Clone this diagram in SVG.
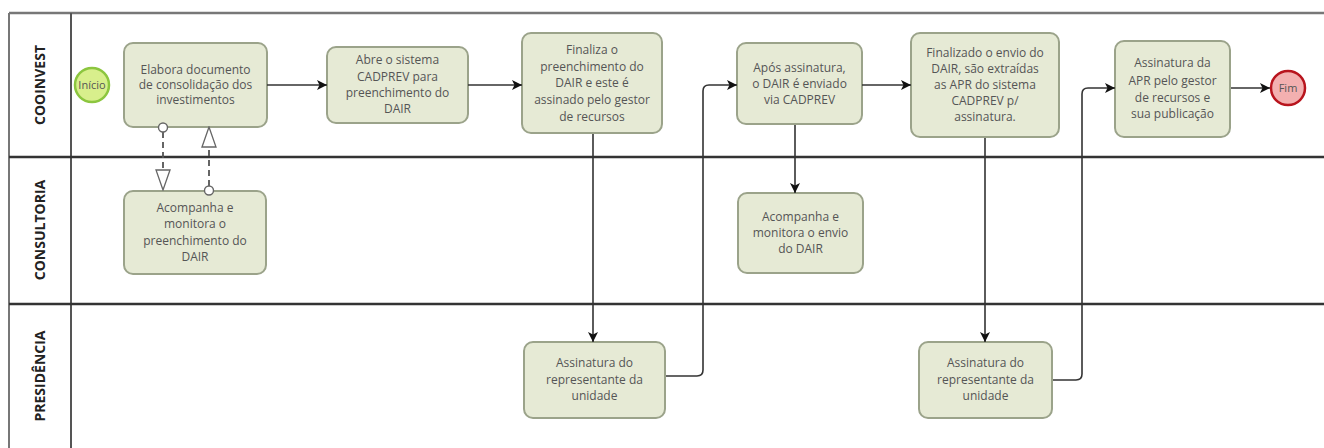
<svg xmlns="http://www.w3.org/2000/svg" width="1324" height="448" viewBox="0 0 1324 448">
<style>
.box{fill:#e6ead5;stroke:#9ba38a;stroke-width:2}
.t{font-family:"Open Sans","Liberation Sans",sans-serif;font-size:12px;fill:#555;text-anchor:middle}
.lane{font-family:"Open Sans","Liberation Sans",sans-serif;font-size:14px;font-weight:bold;fill:#222;text-anchor:middle}
.c{fill:none;stroke:#333;stroke-width:1.6}
.d{fill:none;stroke:#555;stroke-width:1.8;stroke-dasharray:6,4}
</style>
<defs>
<marker id="ah" viewBox="0 0 10 10" refX="10" refY="5" markerWidth="10" markerHeight="10" markerUnits="userSpaceOnUse" orient="auto">
<path d="M0,0 L10,5 L0,10 L2.5,5 Z" fill="#111"/>
</marker>
<marker id="oa" viewBox="0 0 22 16" refX="21" refY="8" markerWidth="22" markerHeight="16" markerUnits="userSpaceOnUse" orient="auto">
<path d="M1,1 L21,8 L1,15 Z" fill="#fff" stroke="#666" stroke-width="1.3"/>
</marker>
</defs>
<rect width="1324" height="448" fill="#fff"/>
<g id="pool">
<line x1="9" y1="13" x2="1324" y2="13" stroke="#777" stroke-width="2.5"/>
<line x1="9" y1="13" x2="9" y2="448" stroke="#777" stroke-width="2"/>
<line x1="71" y1="13" x2="71" y2="448" stroke="#555" stroke-width="2"/>
<line x1="9" y1="157" x2="1324" y2="157" stroke="#333" stroke-width="2.5"/>
<line x1="9" y1="304" x2="1324" y2="304" stroke="#333" stroke-width="2.5"/>
<text class="lane" transform="translate(45,85) rotate(-90)">COOINVEST</text>
<text class="lane" transform="translate(45,230) rotate(-90)">CONSULTORIA</text>
<text class="lane" transform="translate(45,376) rotate(-90)">PRESIDÊNCIA</text>
</g>
<g id="inicio">
<circle cx="92" cy="85" r="17" fill="#d8ef8c" stroke="#8cc63f" stroke-width="2.5"/>
<text class="t" x="92" y="89" style="font-size:11px">Início</text>
</g>
<g id="elabora">
<rect class="box" x="124" y="43" width="143" height="84" rx="9"/>
<text class="t" x="195.5" y="74">Elabora documento</text>
<text class="t" x="195.5" y="89">de consolidação dos</text>
<text class="t" x="195.5" y="104">investimentos</text>
</g>
<g id="abre">
<rect class="box" x="327" y="47" width="141" height="76" rx="9"/>
<text class="t" x="397.5" y="64">Abre o sistema</text>
<text class="t" x="397.5" y="81">CADPREV para</text>
<text class="t" x="397.5" y="97">preenchimento do</text>
<text class="t" x="397.5" y="113">DAIR</text>
</g>
<g id="finaliza">
<rect class="box" x="522" y="33" width="140" height="100" rx="9"/>
<text class="t" x="592" y="54">Finaliza o</text>
<text class="t" x="592" y="71">preenchimento do</text>
<text class="t" x="592" y="87">DAIR e este é</text>
<text class="t" x="592" y="104">assinado pelo gestor</text>
<text class="t" x="592" y="121">de recursos</text>
</g>
<g id="apos">
<rect class="box" x="737" y="43" width="125" height="81" rx="9"/>
<text class="t" x="799.5" y="72">Após assinatura,</text>
<text class="t" x="799.5" y="88">o DAIR é enviado</text>
<text class="t" x="799.5" y="104">via CADPREV</text>
</g>
<g id="finalizado">
<rect class="box" x="911" y="33" width="148" height="104" rx="9"/>
<text class="t" x="985" y="57">Finalizado o envio do</text>
<text class="t" x="985" y="73">DAIR, são extraídas</text>
<text class="t" x="985" y="89">as APR do sistema</text>
<text class="t" x="985" y="105">CADPREV p/</text>
<text class="t" x="985" y="121">assinatura.</text>
</g>
<g id="apr">
<rect class="box" x="1115" y="41" width="115" height="96" rx="9"/>
<text class="t" x="1172.5" y="67">Assinatura da</text>
<text class="t" x="1172.5" y="85">APR pelo gestor</text>
<text class="t" x="1172.5" y="102">de recursos e</text>
<text class="t" x="1172.5" y="118">sua publicação</text>
</g>
<g id="fim">
<circle cx="1288" cy="88" r="17" fill="#f3b0b0" stroke="#b8141d" stroke-width="2.5"/>
<text class="t" x="1288" y="92" style="font-size:11px">Fim</text>
</g>
<g id="acompanha1">
<rect class="box" x="124" y="191" width="142" height="83" rx="9"/>
<text class="t" x="195" y="212">Acompanha e</text>
<text class="t" x="195" y="228">monitora o</text>
<text class="t" x="195" y="245">preenchimento do</text>
<text class="t" x="195" y="261">DAIR</text>
</g>
<g id="acompanha2">
<rect class="box" x="738" y="193" width="125" height="80" rx="9"/>
<text class="t" x="800.5" y="221">Acompanha e</text>
<text class="t" x="800.5" y="237">monitora o envio</text>
<text class="t" x="800.5" y="253">do DAIR</text>
</g>
<g id="assinatura1">
<rect class="box" x="524" y="342" width="141" height="76" rx="9"/>
<text class="t" x="594.5" y="367">Assinatura do</text>
<text class="t" x="594.5" y="384">representante da</text>
<text class="t" x="594.5" y="400">unidade</text>
</g>
<g id="assinatura2">
<rect class="box" x="919" y="342" width="133" height="76" rx="9"/>
<text class="t" x="985.5" y="367">Assinatura do</text>
<text class="t" x="985.5" y="384">representante da</text>
<text class="t" x="985.5" y="400">unidade</text>
</g>
<g id="connectors">
<path class="c" d="M267,85 H327" marker-end="url(#ah)"/>
<path class="c" d="M468,85 H522" marker-end="url(#ah)"/>
<path class="c" d="M593,134 V342" marker-end="url(#ah)"/>
<path class="c" d="M666,376 H697 Q703,376 703,370 V91 Q703,85 709,85 H737" marker-end="url(#ah)"/>
<path class="c" d="M862,85 H911" marker-end="url(#ah)"/>
<path class="c" d="M795,125 V193" marker-end="url(#ah)"/>
<path class="c" d="M985,138 V342" marker-end="url(#ah)"/>
<path class="c" d="M1053,380 H1076 Q1082,380 1082,374 V94 Q1082,88 1088,88 H1115" marker-end="url(#ah)"/>
<path class="c" d="M1231,88 H1270" marker-end="url(#ah)"/>
<path class="d" d="M163,132 V190" marker-end="url(#oa)"/>
<circle cx="163" cy="127.5" r="4.5" fill="#fff" stroke="#666" stroke-width="1.4"/>
<path class="d" d="M209,186 V127" marker-end="url(#oa)"/>
<circle cx="209" cy="190.5" r="4.5" fill="#fff" stroke="#666" stroke-width="1.4"/>
</g>
</svg>
